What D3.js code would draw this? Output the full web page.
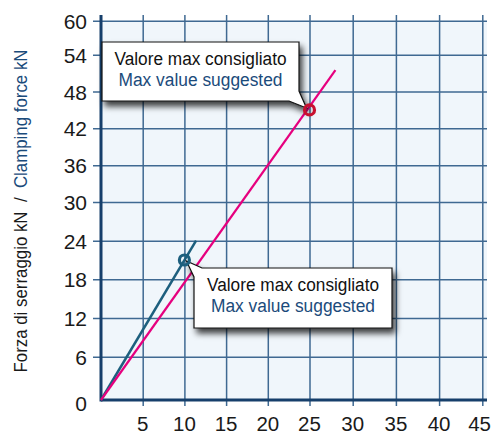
<!DOCTYPE html>
<html><head><meta charset="utf-8">
<script src="https://cdn.jsdelivr.net/npm/d3@7/dist/d3.min.js"></script>
<style>body{margin:0;background:#fff;} svg{display:block;font-family:"Liberation Sans",Arial,sans-serif;}</style>
</head><body>
<svg id="c" width="492" height="434"></svg>
<script>
const xTicks = [5,10,15,20,25,30,35,40,45];
const yTicks = [0,6,12,18,24,30,36,42,48,54,60];
const pinkLine = [[0,0],[28,51.5]];
const tealLine = [[0,0],[11.4,24]];
const pinkMax = [25,45];
const tealMax = [10,21];
const labelIt = "Valore max consigliato";
const labelEn = "Max value suggested";
const yTitleIt = "Forza di serraggio kN";
const yTitleEn = "Clamping force kN";

const svg = d3.select("#c");
// the printed grid is slightly uneven; polylinear scales follow it
const x = d3.scaleLinear().domain([0,25,45]).range([101,309.5,482.3]);
const y = d3.scaleLinear().domain([0,6,30,54,60]).range([400,356.7,202,54.7,20.7]);
const navy = "#1b4b7b", grid = "#3f6992", axisC = "#163f6b";

const defs = svg.append("defs");
const f = defs.append("filter").attr("id","sh").attr("x","-20%").attr("y","-20%").attr("width","150%").attr("height","160%");
f.append("feDropShadow").attr("dx",3).attr("dy",5).attr("stdDeviation",3).attr("flood-color","#000").attr("flood-opacity",0.75);

const right = 487;
svg.append("rect").attr("x",x(0)).attr("y",y(60)).attr("width",right-x(0)).attr("height",y(0)-y(60)).attr("fill","#f0f6fb");

const gy = svg.append("g").attr("transform",`translate(${x(0)},0)`)
  .call(d3.axisLeft(y).tickValues(yTicks.filter(d=>d>0)).tickSize(-(right-x(0))).tickFormat(""));
gy.select(".domain").remove();
gy.selectAll("line").attr("x1",-8).attr("stroke",grid).attr("stroke-width",1.5);
const gx = svg.append("g").attr("transform",`translate(0,${y(0)})`)
  .call(d3.axisBottom(x).tickValues(xTicks).tickSize(-(y(0)-15)).tickFormat(""));
gx.select(".domain").remove();
gx.selectAll("line").attr("y1",6).attr("stroke",grid).attr("stroke-width",1.5);

svg.append("line").attr("x1",x(0)).attr("x2",x(0)).attr("y1",y(0)+1.5).attr("y2",15).attr("stroke",axisC).attr("stroke-width",3);
svg.append("line").attr("x1",x(0)).attr("x2",right).attr("y1",y(0)).attr("y2",y(0)).attr("stroke",axisC).attr("stroke-width",3);

svg.append("g").selectAll("text").data(yTicks).join("text")
  .attr("x",87).attr("y",d=>y(d)+(d===0?11:8)).attr("text-anchor","end")
  .attr("font-size",21).attr("fill","#1a1a1a").text(d=>d);
svg.append("g").selectAll("text").data(xTicks).join("text")
  .attr("x",d=>d===45?491:x(d)).attr("y",431).attr("text-anchor",d=>d===45?"end":"middle")
  .attr("font-size",20.5).attr("fill","#1a1a1a").text(d=>d);

const yt = svg.append("text").attr("transform","translate(27,211) rotate(-90)")
  .attr("text-anchor","middle").attr("font-size",18)
  .attr("textLength",323).attr("lengthAdjust","spacingAndGlyphs");
yt.append("tspan").attr("fill","#1a1a1a").text(yTitleIt);
yt.append("tspan").attr("fill","#1a1a1a").attr("dx",10).text("/");
yt.append("tspan").attr("fill",navy).attr("dx",10).text(yTitleEn);

const line = d3.line().x(d=>x(d[0])).y(d=>y(d[1]));
svg.append("path").attr("d",line(tealLine)).attr("stroke","#1d5f7e").attr("stroke-width",2.5).attr("fill","none");
svg.append("path").attr("d",line(pinkLine)).attr("stroke","#e6007e").attr("stroke-width",2.2).attr("fill","none");

function callout(box,ptr){
  const g = svg.append("g");
  g.append("path").attr("d",ptr).attr("fill","#fff").attr("stroke","#111").attr("stroke-width",1.2).attr("filter","url(#sh)");
  const cx = box[0]+box[2]/2;
  g.append("text").attr("x",cx).attr("y",box[1]+23).attr("text-anchor","middle").attr("font-size",18)
    .attr("textLength",172).attr("lengthAdjust","spacingAndGlyphs").attr("fill","#111").text(labelIt);
  g.append("text").attr("x",cx).attr("y",box[1]+44).attr("text-anchor","middle").attr("font-size",18)
    .attr("textLength",164).attr("lengthAdjust","spacingAndGlyphs").attr("fill",navy).text(labelEn);
}
const p1 = [x(pinkMax[0]),y(pinkMax[1])];
const b1 = [102,42,197,59];
callout(b1,`M${b1[0]},${b1[1]}H${b1[0]+b1[2]}V${b1[1]+b1[3]-10}L${p1[0]-3},${p1[1]-2}L${b1[0]+b1[2]-10},${b1[1]+b1[3]}H${b1[0]}Z`);
const p2 = [x(tealMax[0]),y(tealMax[1])];
const b2 = [194,268,198,60];
callout(b2,`M${b2[0]+8},${b2[1]}H${b2[0]+b2[2]}V${b2[1]+b2[3]}H${b2[0]}V${b2[1]+9}L${p2[0]+2},${p2[1]+1}Z`);

svg.append("circle").attr("cx",p1[0]).attr("cy",p1[1]).attr("r",5).attr("fill","none").attr("stroke","#c8102e").attr("stroke-width",3.2);
svg.append("circle").attr("cx",p2[0]).attr("cy",p2[1]).attr("r",5).attr("fill","none").attr("stroke","#1d5f7e").attr("stroke-width",3.2);
</script>
</body></html>
